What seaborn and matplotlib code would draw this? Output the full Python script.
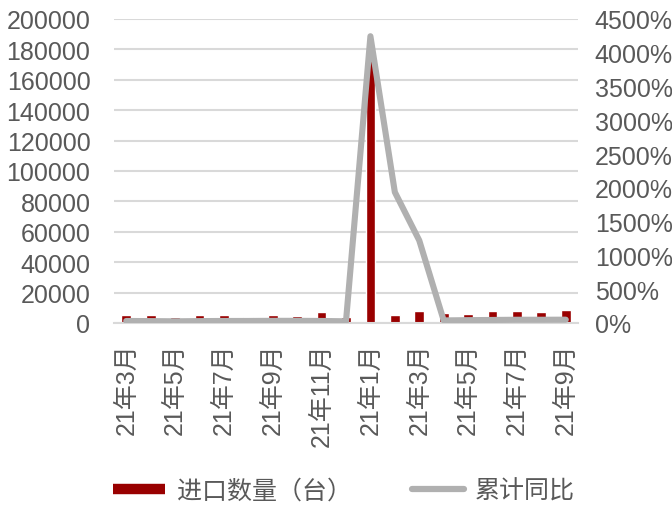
import numpy as np
import pandas as pd
import matplotlib
matplotlib.use("Agg")
import matplotlib.pyplot as plt
from matplotlib.lines import Line2D
import seaborn as sns

# Monthly import volume (units) and cumulative year-on-year growth (%)
periods = ["2021-03", "2021-04", "2021-05", "2021-06", "2021-07", "2021-08",
           "2021-09", "2021-10", "2021-11", "2021-12", "2022-01", "2022-02",
           "2022-03", "2022-04", "2022-05", "2022-06", "2022-07", "2022-08",
           "2022-09"]
imports = [5500, 5500, 4200, 5500, 5500, 4200, 5500, 4800, 7500, 4200,
           178000, 5500, 8100, 6600, 5900, 7900, 7900, 7200, 8550]
yoy = [30, 28, 25, 28, 30, 30, 32, 32, 30, 25,
       4245, 1937, 1222, 38, 42, 45, 48, 48, 49]
tick_labels = ["21年3月", "21年5月", "21年7月", "21年9月", "21年11月",
               "21年1月", "21年3月", "21年5月", "21年7月", "21年9月"]
bar_name = "进口数量（台）"
line_name = "累计同比"

df = pd.DataFrame({"period": periods, "imports": imports, "yoy": yoy})
df["pos"] = np.arange(len(df))

sns.set_theme(style="white")
plt.rcParams["font.family"] = ["Liberation Sans", "Noto Sans CJK SC", "DejaVu Sans"]

text_color = "#595959"
grid_color = "#D9D9D9"
bar_color = "#990000"
line_color = "#B0B0B0"

fig = plt.figure(figsize=(6.72, 5.06), dpi=100)
ax = fig.add_axes([114 / 672, 1 - 324 / 506, (578 - 114) / 672, (324 - 20) / 506])

sns.barplot(data=df, x="pos", y="imports", color=bar_color, width=0.4,
            saturation=1, ax=ax, zorder=2)
ax.set_ylim(0, 200000)
ax.set_yticks(np.arange(0, 200001, 20000))
ax.yaxis.grid(True, color=grid_color, linewidth=1.5, zorder=0)
ax.set_axisbelow(True)
ax.set_xlim(-0.5, len(df) - 0.5)
ax.set_xticks(df["pos"].iloc[::2])
ax.set_xticklabels(tick_labels, rotation=90, va="top", ha="center")
ax.set_xlabel("")
ax.set_ylabel("")
for s in ["top", "right", "left"]:
    ax.spines[s].set_visible(False)
ax.spines["bottom"].set_color(grid_color)
ax.spines["bottom"].set_linewidth(1.5)
ax.tick_params(axis="both", length=0, labelsize=18, colors=text_color)
ax.tick_params(axis="y", pad=17)
ax.tick_params(axis="x", pad=14)

ax2 = ax.twinx()
sns.lineplot(data=df, x="pos", y="yoy", color=line_color, linewidth=4.4,
             ax=ax2, solid_capstyle="round", solid_joinstyle="round", zorder=3)
ax2.set_ylim(0, 4500)
ax2.set_yticks(np.arange(0, 4501, 500))
ax2.set_yticklabels([f"{v}%" for v in range(0, 4501, 500)])
ax2.set_xlim(-0.5, len(df) - 0.5)
ax2.set_ylabel("")
ax2.set_xlabel("")
ax2.grid(False)
for s in ax2.spines.values():
    s.set_visible(False)
ax2.tick_params(axis="y", length=0, labelsize=18, colors=text_color, pad=12)

handles = [
    Line2D([], [], color=bar_color, linewidth=7.5, solid_capstyle="butt"),
    Line2D([], [], color=line_color, linewidth=4.5, solid_capstyle="round"),
]
fig.legend(handles, [bar_name, line_name], loc="center",
           bbox_to_anchor=(344 / 672, 1 - 492 / 506), ncol=2, frameon=False,
           fontsize=18, labelcolor=text_color, handlelength=2.1,
           handletextpad=0.45, columnspacing=2.4)

fig.savefig("out.png", dpi=100)
